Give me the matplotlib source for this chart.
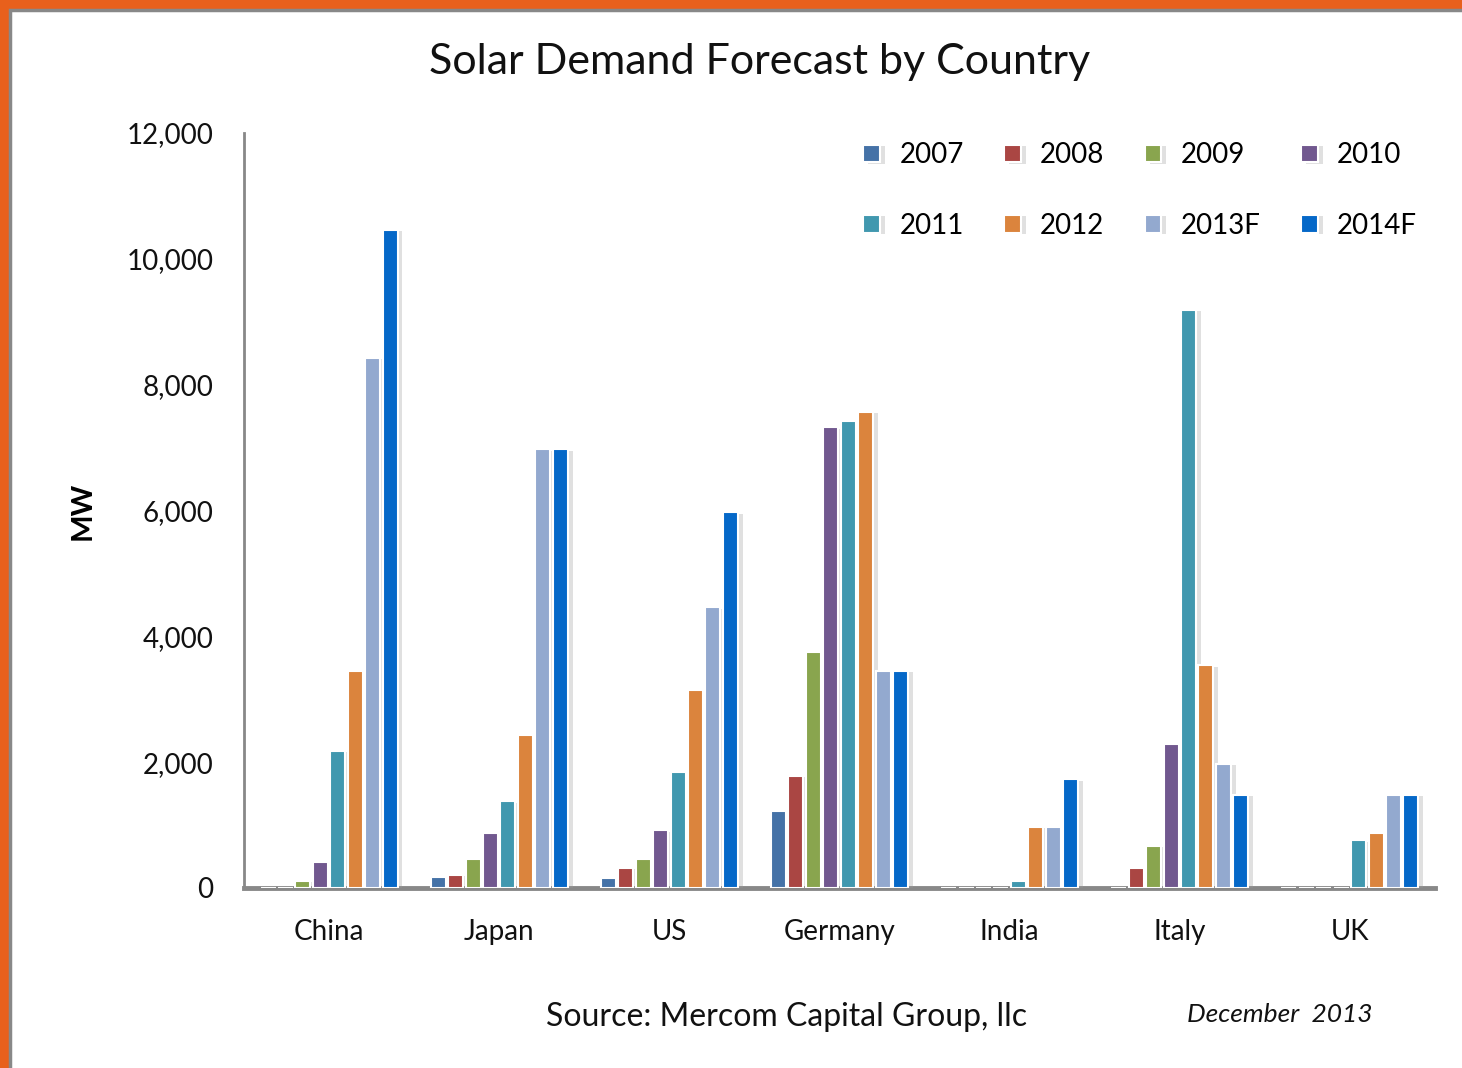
import numpy as np
import matplotlib.pyplot as plt
import matplotlib.patheffects as pe
from matplotlib.patches import Rectangle
from matplotlib.ticker import FuncFormatter

plt.rcParams['font.family'] = ['Lato', 'DejaVu Sans']

# データ
countries = ["China", "Japan", "US", "Germany", "India", "Italy", "UK"]
years = ["2007", "2008", "2009", "2010", "2011", "2012", "2013F", "2014F"]
colors = ["#4572A7", "#AA4643", "#89A54E", "#71588F", "#4198AF", "#DB843D", "#93A9CF", "#0568C8"]

mw_2007 = [0, 170, 165, 1220, 0, 0, 0]
mw_2008 = [0, 210, 320, 1780, 0, 320, 0]
mw_2009 = [115, 460, 460, 3750, 0, 670, 0]
mw_2010 = [420, 880, 920, 7320, 0, 2290, 0]
mw_2011 = [2180, 1380, 1840, 7430, 110, 9190, 760]
mw_2012 = [3450, 2430, 3140, 7570, 970, 3540, 880]
mw_2013f = [8430, 6970, 4460, 3450, 970, 1970, 1480]
mw_2014f = [10460, 6970, 5970, 3450, 1730, 1480, 1480]
series = [mw_2007, mw_2008, mw_2009, mw_2010, mw_2011, mw_2012, mw_2013f, mw_2014f]

fig = plt.figure(figsize=(14.62, 10.68), dpi=100)
fig.patch.set_facecolor("#E8601C")
# 白いスライド部分（右と下ははみ出させる）
fig.patches.append(Rectangle((10 / 1462, -0.05), 1.1, 1.05 - 10 / 1068,
                             transform=fig.transFigure, facecolor="white",
                             edgecolor="#888888", linewidth=2.5, zorder=-10))

ax = fig.add_axes([244 / 1462, 1 - 888 / 1068, (1435 - 244) / 1462, (888 - 133) / 1068])
ax.set_facecolor("none")

x = np.arange(len(countries))
slot = 0.1025
width = 0.088
shadow = [pe.SimplePatchShadow(offset=(3.5, -1), shadow_rgbFace="#999999", alpha=0.3), pe.Normal()]
handles = []
for i, (yr, vals, c) in enumerate(zip(years, series, colors)):
    pos = x + (i - 3.5) * slot
    b = ax.bar(pos, vals, width=width, color=c, edgecolor="white", linewidth=1.5,
               label=yr, path_effects=shadow, zorder=3)
    handles.append(b)

ax.set_xlim(-0.5, 6.5)
ax.set_ylim(0, 12000)
ax.set_yticks(np.arange(0, 12001, 2000))
ax.yaxis.set_major_formatter(FuncFormatter(lambda v, p: f"{int(v):,}"))
ax.set_xticks(x)
ax.set_xticklabels(countries)
ax.tick_params(axis="both", length=0, labelsize=20, colors="#111111")
ax.tick_params(axis="y", pad=22)
ax.tick_params(axis="x", pad=22)

for s in ["top", "right"]:
    ax.spines[s].set_visible(False)
ax.spines["left"].set_color("#888888")
ax.spines["left"].set_linewidth(2)
ax.spines["bottom"].set_color("#888888")
ax.spines["bottom"].set_linewidth(3.5)

ax.set_ylabel("MW", fontsize=21, fontweight="bold", labelpad=22)

fig.text(760 / 1462, 1 - 62 / 1068, "Solar Demand Forecast by Country",
         ha="center", va="center", fontsize=31, color="#111111")

# 凡例は行優先の並びにする
order = [0, 4, 1, 5, 2, 6, 3, 7]
ax.legend([handles[k] for k in order], [years[k] for k in order],
          ncol=4, frameon=False, loc="upper right", bbox_to_anchor=(1.006, 1.021),
          fontsize=20, handlelength=0.6, handleheight=0.6, handletextpad=0.7,
          columnspacing=1.45, labelspacing=1.6)

fig.text(787 / 1462, 1 - 1017 / 1068, "Source: Mercom Capital Group, llc",
         ha="center", va="center", fontsize=23, color="#111111")
fig.text(1280 / 1462, 1 - 1015 / 1068, "December  2013",
         ha="center", va="center", fontsize=19, style="italic", color="#111111")

plt.savefig("out.png", dpi=100, facecolor=fig.get_facecolor())
